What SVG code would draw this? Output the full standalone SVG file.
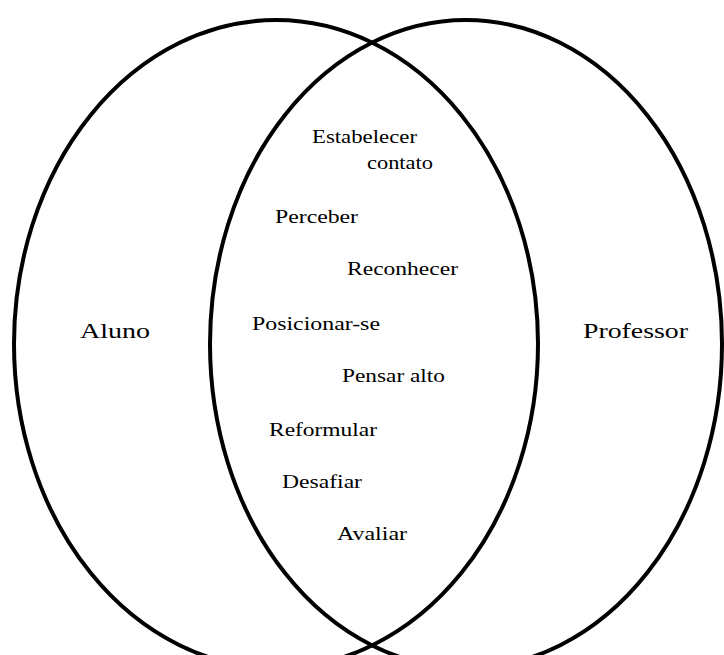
<svg xmlns="http://www.w3.org/2000/svg" width="724" height="655" viewBox="0 0 724 655">
<style>
.set{fill:none;stroke:#000;stroke-width:4}
text{font-family:"Liberation Serif",serif;fill:#000}
.lbl{font-size:22px}
.itm{font-size:19px}
</style>
<rect width="724" height="655" fill="#fff"/>
<g id="aluno">
<ellipse class="set" cx="276" cy="344" rx="262" ry="324"/>
<text class="lbl" font-family="Liberation Serif" x="80" y="338" textLength="70" lengthAdjust="spacingAndGlyphs">Aluno</text>
</g>
<g id="professor">
<ellipse class="set" cx="466" cy="344" rx="256" ry="324"/>
<text class="lbl" font-family="Liberation Serif" x="583" y="338" textLength="105" lengthAdjust="spacingAndGlyphs">Professor</text>
</g>
<g id="intersecao" font-family="Liberation Serif">
<text class="itm" x="312" y="143" textLength="105" lengthAdjust="spacingAndGlyphs">Estabelecer</text>
<text class="itm" x="367" y="169" textLength="66" lengthAdjust="spacingAndGlyphs">contato</text>
<text class="itm" x="275" y="223" textLength="83" lengthAdjust="spacingAndGlyphs">Perceber</text>
<text class="itm" x="347" y="275" textLength="111" lengthAdjust="spacingAndGlyphs">Reconhecer</text>
<text class="itm" x="252" y="330" textLength="128" lengthAdjust="spacingAndGlyphs">Posicionar-se</text>
<text class="itm" x="342" y="382" textLength="103" lengthAdjust="spacingAndGlyphs">Pensar alto</text>
<text class="itm" x="269" y="436" textLength="108" lengthAdjust="spacingAndGlyphs">Reformular</text>
<text class="itm" x="282" y="488" textLength="80" lengthAdjust="spacingAndGlyphs">Desafiar</text>
<text class="itm" x="337" y="540" textLength="70" lengthAdjust="spacingAndGlyphs">Avaliar</text>
</g>
</svg>
